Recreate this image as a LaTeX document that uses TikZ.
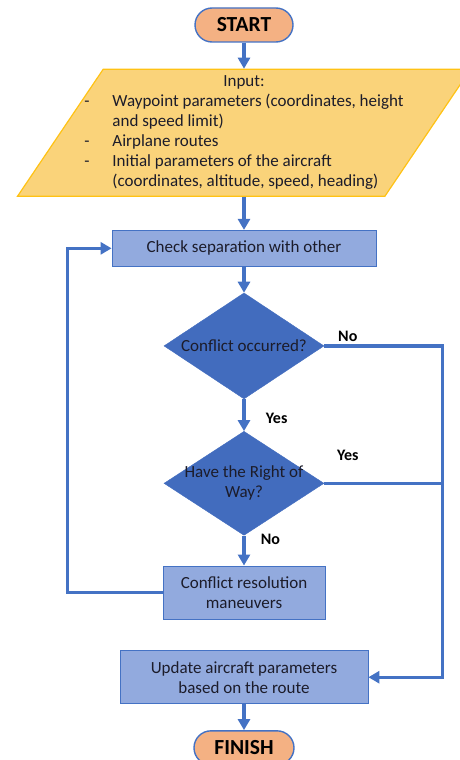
\documentclass[tikz,border=0pt]{standalone}
\usepackage{fontspec}
\setmainfont{Carlito}
\usepackage{xcolor}
\usepackage{tikz}
\usetikzlibrary{arrows.meta, shapes.geometric, positioning, calc}

\definecolor{flowblue}{RGB}{68,114,196}
\definecolor{boxblue}{RGB}{146,170,222}
\definecolor{diamblue}{RGB}{66,108,190}
\definecolor{termorange}{RGB}{244,177,131}
\definecolor{inputgold}{RGB}{250,211,122}
\definecolor{goldedge}{RGB}{255,194,20}
\definecolor{txtdark}{RGB}{28,28,42}

\begin{document}
\begin{tikzpicture}[
    x=1pt, y=1pt,
    every node/.style={font=\fontsize{17}{20}\selectfont, text=txtdark},
    terminal/.style={rectangle, rounded corners=17pt, draw=flowblue,
                     line width=1.4pt, fill=termorange, minimum width=98pt,
                     minimum height=34pt, text=black,
                     font=\fontsize{21.5}{24}\selectfont\bfseries},
    io/.style={trapezium, trapezium left angle=56, trapezium right angle=124,
               trapezium stretches body, minimum width=453pt,
               inner xsep=0pt, inner ysep=63.5pt, fill=inputgold,
               draw=goldedge, line width=1.2pt},
    process/.style={rectangle, draw=flowblue, line width=0.8pt,
                    fill=boxblue, align=center},
    decision/.style={diamond, fill=diamblue, draw=diamblue, inner sep=0pt},
    flow/.style={draw=flowblue, line width=3.2pt,
                 -{Triangle[length=11pt, width=12pt]}},
    rail/.style={draw=flowblue, line width=3.2pt},
    answer/.style={font=\fontsize{16}{18}\selectfont\bfseries, text=black}
  ]
  \useasboundingbox (0,0) rectangle (459,-760);

  \node[terminal] (start) at (244,-25) {START};
  \node[io, below=26pt of start,
        label={center:{\begin{tabular}{@{}p{28pt}@{}l@{}}
          \multicolumn{2}{c}{Input:}\\
          - & Waypoint parameters (coordinates, height\\
            & and speed limit)\\
          - & Airplane routes\\
          - & Initial parameters of the aircraft\\
            & (coordinates, altitude, speed, heading)
        \end{tabular}}}] (input) {};
  \node[process, below=33pt of input, minimum width=264pt,
        minimum height=36pt] (check) {Check separation with other};
  \node[decision, below=26pt of check, minimum width=160pt,
        minimum height=106pt, label={center:Conflict occurred?}] (conflict) {};
  \node[decision, below=32pt of conflict, minimum width=160pt,
        minimum height=104pt,
        label={[align=center]center:Have the Right of\\Way?}] (rightway) {};
  \node[process, below=30pt of rightway, minimum width=162pt,
        minimum height=53pt] (resolve) {Conflict resolution\\maneuvers};
  \node[process, below=31pt of resolve, minimum width=248pt,
        minimum height=53pt] (update)
        {Update aircraft parameters\\based on the route};
  \node[terminal, below=26pt of update, minimum width=100pt] (finish) {FINISH};

  % side rails
  \coordinate (rail) at ($(conflict.east)+(118,0)$);
  \coordinate (loop) at ($(resolve.west)+(-95,0)$);

  % main flow
  \draw[flow] (start) -- (input);
  \draw[flow] (input) -- (check);
  \draw[flow] (check) -- (conflict);
  \draw[flow] (conflict) -- node[answer, pos=0.6, right=17pt] {Yes} (rightway);
  \draw[flow] (rightway) -- node[answer, pos=0.12, right=12pt] {No} (resolve);
  \draw[flow] (update) -- (finish);

  % loop back and bypass
  \draw[flow] (resolve.west) -- (loop) |- (check.west);
  \draw[flow] (conflict.east) -- node[answer, pos=0.2, above=-1pt] {No} (rail)
    |- (update.east);
  \draw[rail] (rightway.east) -- node[answer, pos=0.2, above=18pt] {Yes}
    (rightway.east -| rail);
\end{tikzpicture}
\end{document}
